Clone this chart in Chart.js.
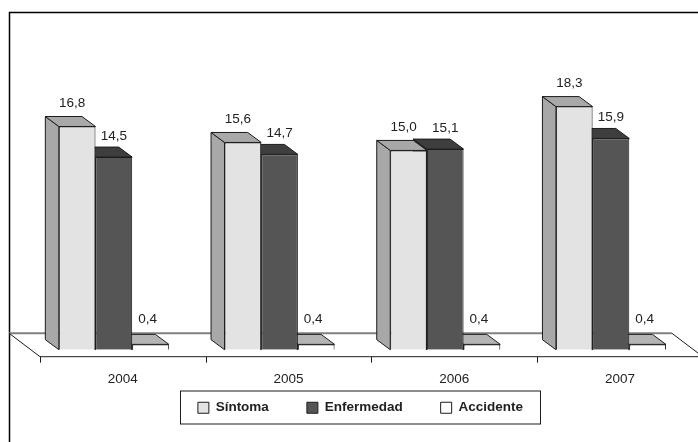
<!DOCTYPE html>
<html>
<head>
<meta charset="utf-8">
<style>
  html, body { margin: 0; padding: 0; background: #fff; overflow: hidden; }
  #wrap { position: relative; width: 698px; height: 442px; }
</style>
<script src="https://cdn.jsdelivr.net/npm/chart.js@4"></script>
</head>
<body>
<div id="wrap"><canvas id="chart" width="698" height="442"></canvas></div>
<script>
const years = ['2004', '2005', '2006', '2007'];
const sintoma = [16.8, 15.6, 15.0, 18.3];
const enfermedad = [14.5, 14.7, 15.1, 15.9];
const accidente = [0.4, 0.4, 0.4, 0.4];

const FONT = '"Liberation Sans", Arial, sans-serif';
const LINE = '#1c1c1c';
const DEPTH_X = 13.5, DEPTH_Y = 10;     // bar depth
const SHIFT_X = 9, SHIFT_Y = 7;         // floor front edge vs bar front
const FLOOR_X = 31, FLOOR_Y = 23.5;     // floor depth

// side/top colours and label offsets for each series
const faces = [
  { side: '#a8a8a8', top: '#a8a8a8', dx: -5, dy: -23.5 },
  { side: '#3e3e3e', top: '#3e3e3e', dx: 0, dy: -21 },
  { side: '#b4b4b4', top: '#b4b4b4', dx: -3, dy: -25 }
];

function poly(ctx, pts, fill) {
  ctx.beginPath();
  pts.forEach((p, i) => i ? ctx.lineTo(p[0], p[1]) : ctx.moveTo(p[0], p[1]));
  ctx.closePath();
  ctx.fillStyle = fill;
  ctx.fill();
  ctx.stroke();
}

// Frame, floor and axis, all taken from the category scale
const floorPlugin = {
  id: 'floor',
  beforeDatasetsDraw(chart) {
    const { ctx, scales: { x, y } } = chart;
    const base = y.getPixelForValue(0);
    const frontY = base + SHIFT_Y;
    const left = x.left + SHIFT_X, right = x.right + SHIFT_X;
    const backY = frontY - FLOOR_Y;
    ctx.save();

    // chart frame (only left and top fit the picture)
    ctx.strokeStyle = '#000';
    ctx.lineWidth = 1.5;
    ctx.beginPath();
    ctx.moveTo(9.5, 442);
    ctx.lineTo(9.5, 12.5);
    ctx.lineTo(698, 12.5);
    ctx.stroke();

    // back edge of floor
    ctx.strokeStyle = '#808080';
    ctx.lineWidth = 2;
    ctx.beginPath();
    ctx.moveTo(left - FLOOR_X, backY);
    ctx.lineTo(right - FLOOR_X, backY);
    ctx.stroke();

    // sides and front of floor
    ctx.strokeStyle = LINE;
    ctx.lineWidth = 1;
    ctx.beginPath();
    ctx.moveTo(left - FLOOR_X, backY);
    ctx.lineTo(left, frontY);
    ctx.lineTo(right, frontY);
    ctx.lineTo(right - FLOOR_X, backY);
    ctx.stroke();

    // ticks on category boundaries
    ctx.beginPath();
    for (let i = 0; i < years.length; i++) {
      const tx = Math.round(x.getPixelForValue(i) - x.width / years.length / 2 + SHIFT_X) + 0.5;
      ctx.moveTo(tx, frontY);
      ctx.lineTo(tx, frontY + 6);
    }
    ctx.stroke();

    // depth faces, last series first so the nearer bars paint over
    ctx.lineJoin = 'round';
    for (let d = chart.data.datasets.length - 1; d >= 0; d--) {
      chart.getDatasetMeta(d).data.forEach(bar => {
        const l = bar.x - bar.width / 2, r = bar.x + bar.width / 2;
        poly(ctx, [[l, bar.y], [l - DEPTH_X, bar.y - DEPTH_Y], [l - DEPTH_X, bar.base - DEPTH_Y], [l, bar.base]], faces[d].side);
        poly(ctx, [[l, bar.y], [l - DEPTH_X, bar.y - DEPTH_Y], [r - DEPTH_X, bar.y - DEPTH_Y], [r, bar.y]], faces[d].top);
      });
    }
    ctx.restore();
  },
  afterDatasetsDraw(chart) {
    const { ctx } = chart;
    ctx.save();
    ctx.fillStyle = '#222';
    ctx.font = '13.5px ' + FONT;
    ctx.textAlign = 'center';
    ctx.textBaseline = 'middle';
    chart.data.datasets.forEach((ds, d) => {
      chart.getDatasetMeta(d).data.forEach((bar, i) => {
        ctx.fillText(ds.data[i].toFixed(1).replace('.', ','), bar.x + faces[d].dx, bar.y + faces[d].dy);
      });
    });
    ctx.restore();
  }
};

// Legend sits inside a box of its own, below the axis labels
const legendBox = {
  id: 'legendBox',
  afterLayout(chart) {
    chart.legend.top = 363;
    chart.legend.left -= 2;
    chart.legend.right -= 2;
    // tick labels are clipped to the scale box, so give them room
    chart.scales.x.bottom = 392;
  },
  beforeDraw(chart) {
    const { ctx } = chart;
    ctx.save();
    ctx.strokeStyle = LINE;
    ctx.lineWidth = 1;
    ctx.strokeRect(180.5, 391, 360, 33);
    ctx.restore();
  }
};

new Chart(document.getElementById('chart'), {
  type: 'bar',
  data: {
    labels: years,
    datasets: [
      { label: 'Síntoma', data: sintoma, backgroundColor: '#e3e3e3' },
      { label: 'Enfermedad', data: enfermedad, backgroundColor: '#555555' },
      { label: 'Accidente', data: accidente, backgroundColor: '#ffffff' }
    ]
  },
  options: {
    responsive: false,
    animation: false,
    categoryPercentage: 0.664,
    barPercentage: 1,
    borderColor: LINE,
    borderWidth: 1,
    layout: { padding: { left: 31, right: 4.2, top: 84, bottom: 0 } },
    scales: {
      x: {
        grid: { display: false },
        border: { display: false },
        ticks: {
          color: '#222',
          font: { family: FONT, size: 13.5 },
          labelOffset: SHIFT_X,
          maxRotation: 0,
          padding: 13
        },
        afterFit(scale) { scale.height = 92.3 - scale.chart.legend.height; }
      },
      y: { display: false, min: 0, max: 20 }
    },
    plugins: {
      tooltip: { enabled: false },
      legend: {
        position: 'bottom',
        labels: {
          color: '#222',
          font: { family: FONT, size: 13.5, weight: 'bold' },
          boxWidth: 11,
          boxHeight: 11,
          padding: 38
        }
      }
    }
  },
  plugins: [floorPlugin, legendBox]
});
</script>
</body>
</html>
